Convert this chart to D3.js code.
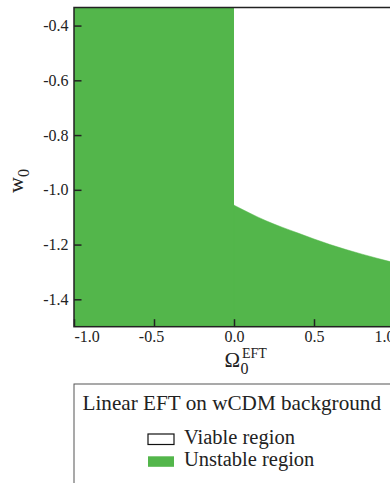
<!DOCTYPE html>
<html>
<head>
<meta charset="utf-8">
<script src="https://cdn.jsdelivr.net/npm/d3@7"></script>
<style>
  body { margin: 0; background: #fff; }
  svg { display: block; font-family: "Liberation Serif", "DejaVu Serif", serif; }
</style>
</head>
<body>
<div id="chart"></div>
<script>
// values
var xTicks = [-1.0, -0.5, 0.0, 0.5, 1.0];
var yTicks = [-0.4, -0.6, -0.8, -1.0, -1.2, -1.4];
var xDomain = [-1.0, 1.0];
var yDomain = [-1.5, -0.334];

// stability boundary for Omega0 >= 0 (below it the model is unstable)
var boundaryOmega = [0.0, 0.2, 0.4, 0.6, 0.8, 1.0];
var boundaryW = [-1.056, -1.113, -1.158, -1.200, -1.235, -1.266];

var legendTitle = "Linear EFT on wCDM background";
var legendItems = ["Viable region", "Unstable region"];

var green = "#53b64b";

var svg = d3.select("#chart")
    .append("svg")
    .attr("width", 390)
    .attr("height", 483);

var plotLeft = 74, plotTop = 7.5, plotRight = 394, plotBottom = 326.7;

var x = d3.scaleLinear().domain(xDomain).range([plotLeft, plotRight]);
var y = d3.scaleLinear().domain(yDomain).range([plotBottom, plotTop]);

// unstable region: whole strip for Omega0 < 0
svg.append("rect")
    .attr("x", x(xDomain[0]))
    .attr("y", y(yDomain[1]))
    .attr("width", x(0) - x(xDomain[0]))
    .attr("height", y(yDomain[0]) - y(yDomain[1]))
    .style("fill", green);

// unstable region under the boundary for Omega0 >= 0
var pts = boundaryOmega.map(function (d, i) { return [d, boundaryW[i]]; });
var area = d3.area()
    .x(function (d) { return x(d[0]); })
    .y0(y(yDomain[0]))
    .y1(function (d) { return y(d[1]); })
    .curve(d3.curveMonotoneX);

svg.append("path")
    .datum(pts)
    .attr("d", area)
    .style("fill", green)
    .style("stroke", green)
    .style("stroke-width", 0.5);

// frame
svg.append("rect")
    .attr("x", plotLeft)
    .attr("y", plotTop)
    .attr("width", plotRight - plotLeft)
    .attr("height", plotBottom - plotTop)
    .style("fill", "none")
    .style("stroke", "#222")
    .style("stroke-width", 1.5);

var fmt = function (d) { return d3.format(".1f")(d).replace("−", "-"); };

// Add X axis (ticks point inward)
var xAxis = svg.append("g")
    .attr("transform", "translate(0," + plotBottom + ")")
    .call(d3.axisBottom(x).tickValues(xTicks).tickSizeInner(-7.5).tickSizeOuter(0).tickFormat(fmt))
    .attr("font-family", "Liberation Serif")
    .attr("font-size", 16);
xAxis.select(".domain").remove();
xAxis.selectAll("line").style("stroke", "#222").style("stroke-width", 1.5);
xAxis.selectAll("text")
    .attr("y", 15.5)
    .attr("dy", 0)
    .style("fill", "#222")
    .attr("text-anchor", function (d) {
        if (d === xDomain[0]) return "start";
        if (d === xDomain[1]) return "end";
        return "middle";
    })
    .attr("x", function (d) { return d < 0 && d !== xDomain[0] ? -3 : 0; });

// Add Y axis
var yAxis = svg.append("g")
    .attr("transform", "translate(" + plotLeft + ",0)")
    .call(d3.axisLeft(y).tickValues(yTicks).tickSizeInner(-7.5).tickSizeOuter(0).tickFormat(fmt))
    .attr("font-family", "Liberation Serif")
    .attr("font-size", 16);
yAxis.select(".domain").remove();
yAxis.selectAll("line").style("stroke", "#222").style("stroke-width", 1.5);
yAxis.selectAll("text")
    .attr("x", -5.5)
    .attr("dy", "0.32em")
    .style("fill", "#222");

// text label for the x axis
var xl = svg.append("text")
    .attr("x", 224.5)
    .attr("y", 366.7)
    .style("font-size", "21px")
    .style("fill", "#222");
xl.append("tspan").text("Ω");
xl.append("tspan").attr("x", 240.5).attr("y", 373.5).style("font-size", "16px").text("0");
xl.append("tspan").attr("x", 242).attr("y", 357.7).style("font-size", "14px").text("EFT");

// text label for the y axis
var yl = svg.append("text")
    .attr("transform", "translate(23.3,193) rotate(-90)")
    .style("font-size", "22px")
    .style("fill", "#222");
yl.append("tspan").text("w");
yl.append("tspan").attr("dy", 6).style("font-size", "16px").text("0");

// legend
svg.append("rect")
    .attr("x", 74)
    .attr("y", 384)
    .attr("width", 330)
    .attr("height", 120)
    .style("fill", "#fff")
    .style("stroke", "#555")
    .style("stroke-width", 1);

svg.append("text")
    .attr("x", 82.5)
    .attr("y", 410)
    .style("font-size", "21.2px")
    .style("fill", "#222")
    .text(legendTitle);

var leg = svg.append("g")
    .selectAll("g")
    .data(legendItems)
    .enter()
    .append("g")
    .attr("transform", function (d, i) { return "translate(148," + (434 + i * 22.3) + ")"; });

leg.append("rect")
    .attr("width", 26)
    .attr("height", 10.5)
    .style("fill", function (d, i) { return i === 0 ? "#fff" : green; })
    .style("stroke", function (d, i) { return i === 0 ? "#111" : "none"; })
    .style("stroke-width", 1.2);

leg.append("text")
    .attr("x", 36)
    .attr("y", 9.5)
    .style("font-size", "20.5px")
    .style("fill", "#222")
    .text(function (d) { return d; });
</script>
</body>
</html>
